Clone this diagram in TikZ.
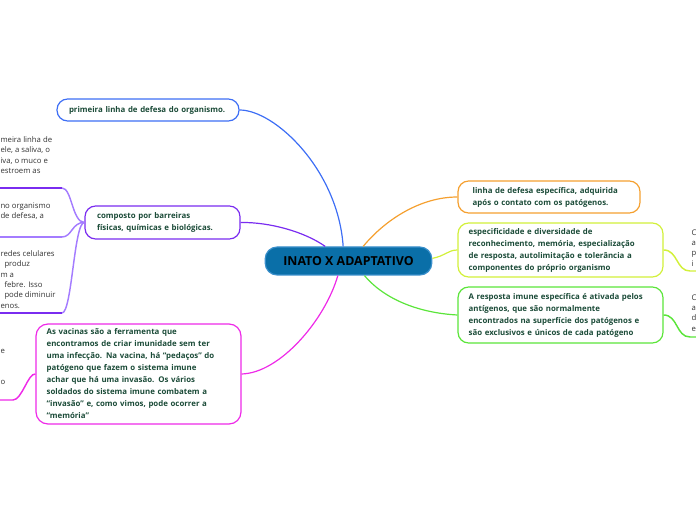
\documentclass[tikz,border=0pt]{standalone}
\usepackage{fontspec}
\setmainfont{Open Sans}
\definecolor{cblue}{HTML}{3D6EF5}
\definecolor{cpurple}{HTML}{7A2CF0}
\definecolor{cpurplel}{HTML}{A47CFF}
\definecolor{cmagenta}{HTML}{EE2AE8}
\definecolor{corange}{HTML}{F5A030}
\definecolor{clime}{HTML}{D2F03A}
\definecolor{cgreen}{HTML}{5BE53A}
\definecolor{rootfill}{HTML}{0A6FA8}
\definecolor{rootline}{HTML}{3A8FCB}
\definecolor{nodetxt}{HTML}{1B4B38}
\definecolor{leaftxt}{HTML}{333333}
\hyphenpenalty=10000

\tikzset{every picture/.style={line width=0.75pt}}
\tikzset{
  root/.style={draw=rootline, fill=rootfill, rounded corners=9pt, line width=0.9pt,
    minimum width=125pt, minimum height=21pt, text=black,
    font=\bfseries\fontsize{9.3}{11}\selectfont},
  topic/.style={fill=white, rounded corners=8pt, line width=0.9pt, text=nodetxt,
    align=left, inner xsep=8pt, inner ysep=2pt,
    font=\bfseries\fontsize{5.9}{9}\selectfont},
  leaf/.style={anchor=north west, inner sep=0pt, align=left, text=leaftxt,
    font=\fontsize{5.8}{7.8}\selectfont},
  branch/.style={line width=0.9pt},
  leafline/.style={line width=1.1pt},
}

\begin{document}
\begin{tikzpicture}[x=0.75pt,y=0.75pt,yscale=-1,xscale=1]
\useasboundingbox (0,0) rectangle (696,520);
\clip (0,0) rectangle (696,520);

% Central Topic
\node [root] (root) at (348.5,261) {INATO X ADAPTATIVO};

% Text Node
\node [topic, draw=cblue, text width=120.5pt, minimum height=16.5pt] (primeira) at (148,110)
  {\hspace*{1pt}primeira linha de defesa do organismo.};
% Text Node
\node [topic, draw=cpurple, text width=100.25pt, minimum height=24.75pt] (composto) at (162.5,222.5)
  {\hspace*{1pt}composto por barreiras\\\hspace*{1pt}físicas, químicas e biológicas.};
% Text Node
\node [topic, draw=cmagenta, rounded corners=9pt, text width=137.75pt, minimum height=75pt] (vacinas) at (138.5,374)
  {As vacinas são a ferramenta que\\encontramos de criar imunidade sem ter\\uma infecção. Na vacina, há “pedaços” do\\patógeno que fazem o sistema imune\\achar que há uma invasão. Os vários\\soldados do sistema imune combatem a\\“invasão” e, como vimos, pode ocorrer a\\“memória”};
% Text Node
\node [topic, draw=corange, text width=120.5pt, minimum height=24pt] (linha) at (549,197)
  {\hspace*{3pt}linha de defesa específica, adquirida\\\hspace*{3pt}após o contato com os patógenos.};
% Text Node
\node [topic, draw=clime, text width=137.75pt, minimum height=40.5pt] (espec) at (560.5,250)
  {especificidade e diversidade de\\reconhecimento, memória, especialização\\de resposta, autolimitação e tolerância a\\componentes do próprio organismo};
% Text Node
\node [topic, draw=cgreen, text width=137.75pt, minimum height=42pt] (resposta) at (560.5,315)
  {A resposta imune específica é ativada pelos\\antígenos, que são normalmente\\encontrados na superfície dos patógenos e\\são exclusivos e únicos de cada patógeno};

% Leaf Nodes
\node [leaf] (leafA) at (0,136) {meira linha de\\ele, a saliva, o\\iva, o muco e\\estroem as};
\node [leaf] (leafB) at (0,202) {no organismo\\de defesa, a};
\node [leaf] (leafC) at (0,250) {redes celulares\\\hspace*{3pt}produz\\m a\\\hspace*{3pt}febre. Isso\\\hspace*{3pt}pode diminuir\\enos.};
\node [leaf] (leafD) at (0,349) {e\\[15pt]o};
\node [leaf] (leafE) at (691,229) {C\\a\\p\\i};
\node [leaf] (leafF) at (691,294) {C\\a\\d\\e};

% Leaf underline ends
\coordinate (ulA) at (62,188);   \coordinate (ulA0) at (-5,188);
\coordinate (ulB) at (62,237);   \coordinate (ulB0) at (-5,237);
\coordinate (ulC) at (62,313);   \coordinate (ulC0) at (-5,313);
\coordinate (ulD) at (13,400);   \coordinate (ulD0) at (-5,400);
\coordinate (ulE) at (690,271);  \coordinate (ulE0) at (705,271);
\coordinate (ulF) at (690,337);  \coordinate (ulF0) at (705,337);

%Curve Lines
\draw [branch, cblue] ([xshift=-4pt]root.north) .. controls (338,170) and (275,110) .. (primeira.east);
%Curve Lines
\draw [branch, cpurple] ([xshift=-17.5pt]root.north) .. controls (305,232) and (270,222) .. (composto.east);
%Curve Lines
\draw [branch, cmagenta] ([xshift=-8pt]root.south) .. controls (325,320) and (280,373) .. (vacinas.east);
%Curve Lines
\draw [branch, corange] ([xshift=11pt]root.north) .. controls (385,220) and (420,197) .. (linha.west);
%Curve Lines
\draw [branch, clime] ([yshift=-2pt]root.east) .. controls (445,256) and (448,250) .. (espec.west);
%Curve Lines
\draw [branch, cgreen] ([xshift=12pt]root.south) .. controls (385,300) and (420,313) .. (resposta.west);

%Leaf Lines
\draw [leafline, cpurplel] (composto.west) .. controls (72,222) and (72,188) .. (ulA);
\draw [leafline, cpurple] (ulA) -- (ulA0);
\draw [leafline, cpurplel] (composto.west) .. controls (72,222) and (72,237) .. (ulB);
\draw [leafline, cpurplel] (ulB) -- (ulB0);
\draw [leafline, cpurplel] (composto.west) .. controls (74,222) and (72,313) .. (ulC);
\draw [leafline, cpurple] (ulC) -- (ulC0);
\draw [leafline, cmagenta] (vacinas.west) .. controls (28,373) and (22,400) .. (ulD) -- (ulD0);
\draw [leafline, clime] (espec.east) .. controls (678,250) and (676,271) .. (ulE) -- (ulE0);
\draw [leafline, cgreen] (resposta.east) .. controls (678,315) and (676,337) .. (ulF) -- (ulF0);
\end{tikzpicture}
\end{document}
